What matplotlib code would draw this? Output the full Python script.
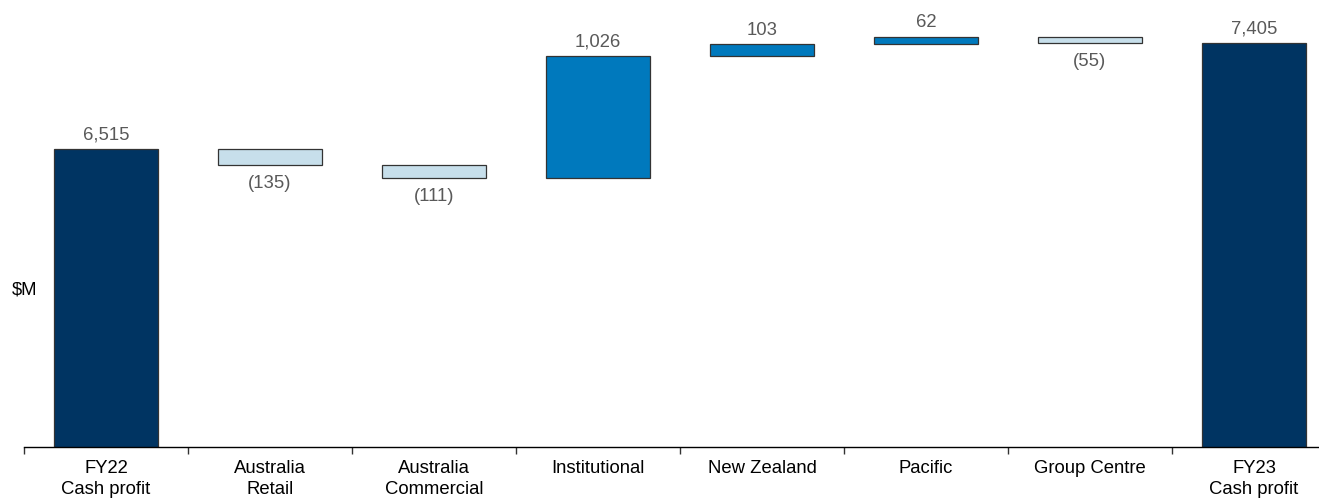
import matplotlib.pyplot as plt
import numpy as np

plt.rcParams['font.family'] = ['Liberation Sans', 'DejaVu Sans']

# categories and values ($M)
categories = ['FY22\nCash profit', 'Australia\nRetail', 'Australia\nCommercial',
              'Institutional', 'New Zealand', 'Pacific', 'Group Centre',
              'FY23\nCash profit']
values = [6515, -135, -111, 1026, 103, 62, -55, 7405]
labels = ['6,515', '(135)', '(111)', '1,026', '103', '62', '(55)', '7,405']

navy = '#003462'
mid_blue = '#0079BD'
light_blue = '#C7DFEB'

# bottoms / heights for the waterfall
bottoms = []
heights = []
colors = []
running = 0
for i, v in enumerate(values):
    if i == 0 or i == len(values) - 1:
        bottoms.append(0)
        heights.append(v)
        colors.append(navy)
        running = v
    else:
        if v >= 0:
            bottoms.append(running)
            colors.append(mid_blue)
        else:
            bottoms.append(running + v)
            colors.append(light_blue)
        heights.append(abs(v))
        running += v

fig = plt.figure(figsize=(13.19, 4.98), dpi=100)
ax = fig.add_axes([24 / 1319, 51 / 498, 1312 / 1319, 447 / 498])

x = np.arange(len(categories))
ax.bar(x, heights, bottom=bottoms, width=0.63, color=colors,
       edgecolor='#333333', linewidth=0.9, zorder=2)

ax.set_xlim(-0.5, len(categories) - 0.5)
ax.set_ylim(4000, 7770)

for i, v in enumerate(values):
    if v >= 0 or i == 0:
        ax.annotate(labels[i], (x[i], bottoms[i] + heights[i]),
                    xytext=(0, 4), textcoords='offset points',
                    ha='center', va='bottom', fontsize=13.3, color='#595959')
    else:
        ax.annotate(labels[i], (x[i], bottoms[i]),
                    xytext=(0, -7), textcoords='offset points',
                    ha='center', va='top', fontsize=13.3, color='#595959')

for s in ['left', 'right', 'top']:
    ax.spines[s].set_visible(False)
ax.spines['bottom'].set_linewidth(1.0)

ax.set_yticks([])
ax.set_xticks(x)
ax.set_xticklabels(categories, fontsize=13.3, linespacing=1.35)
ax.tick_params(axis='x', which='major', length=0, pad=9)
ax.set_xticks(np.arange(-0.5, len(categories) - 1, 1.0), minor=True)
ax.tick_params(axis='x', which='minor', length=5, width=1.0, direction='out',
               color='#333333')

fig.text(25 / 1319, 1 - 290 / 498, '$M', fontsize=13.3, ha='center', va='center')

fig.savefig('out.png', dpi=100)
